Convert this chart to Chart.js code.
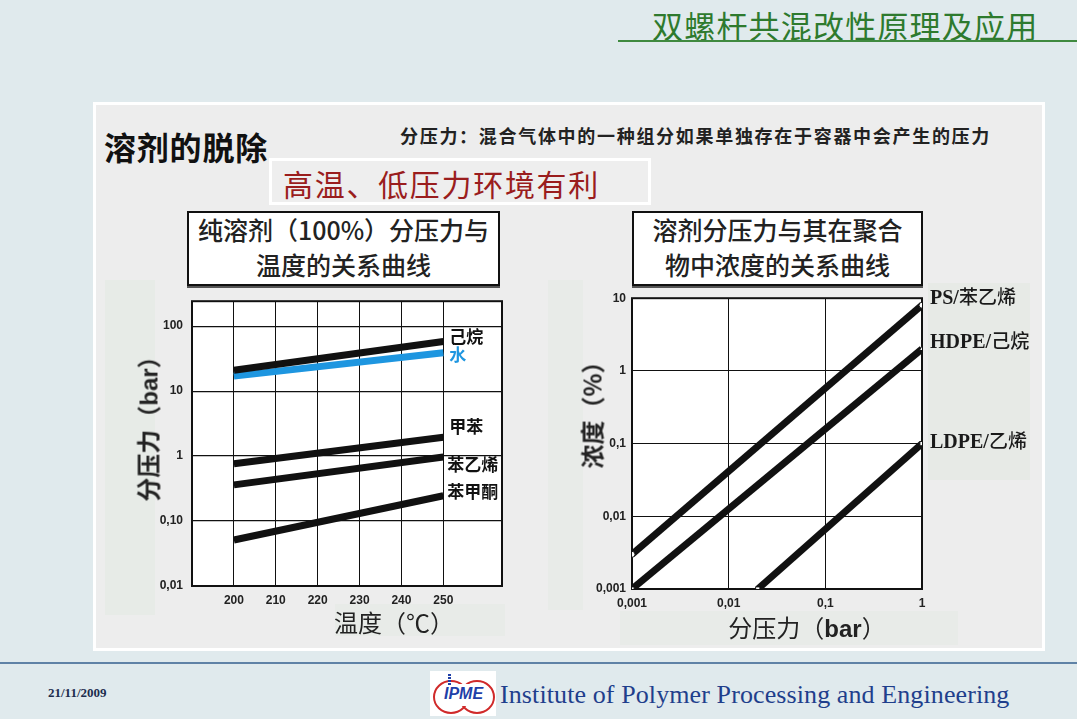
<!DOCTYPE html>
<html>
<head>
<meta charset="utf-8">
<script src="https://cdn.jsdelivr.net/npm/chart.js@4.4.1/dist/chart.umd.min.js"></script>
<style>
  html,body{margin:0;padding:0;}
  body{width:1077px;height:719px;background:#e0eaed;position:relative;overflow:hidden;font-family:"Noto Sans CJK SC","Noto Sans",sans-serif;}
  .abs{position:absolute;white-space:nowrap;}
  .cjk{font-family:"Noto Sans CJK SC",sans-serif;}
  .serif{font-family:"Liberation Serif","Noto Sans CJK SC",serif;}
</style>
</head>
<body>
<script>
// ---------- Left chart data: vapour pressure of pure solvents vs temperature ----------
const tempX = [200, 250];
const tempTicks = [200, 210, 220, 230, 240, 250];
const pressureTicksLeft = [0.01, 0.1, 1, 10, 100];
const pressureTickLabelsLeft = ['0,01', '0,10', '1', '10', '100'];
const leftSeriesNames = ['己烷', '水', '甲苯', '苯乙烯', '苯甲酮'];
const hexane  = [21, 58];
const water   = [17, 39];
const toluene = [0.76, 1.95];
const styrene = [0.36, 0.97];
const ketone  = [0.051, 0.245];

// ---------- Right chart data: concentration in polymer vs partial pressure ----------
const partialTicks = [0.001, 0.01, 0.1, 1];
const partialTickLabels = ['0,001', '0,01', '0,1', '1'];
const concTicks = [0.001, 0.01, 0.1, 1, 10];
const concTickLabels = ['0,001', '0,01', '0,1', '1', '10'];
const rightSeriesNames = ['PS/苯乙烯', 'HDPE/己烷', 'LDPE/乙烯'];
const psX   = [0.001, 1];
const psY   = [0.003, 8];
const hdpeX = [0.001, 1];
const hdpeY = [0.001, 2];
const ldpeX = [0.02, 1];
const ldpeY = [0.001, 0.1];
</script>

<!-- slide decoration -->
<div class="abs cjk" style="left:652px;top:2px;font-size:31px;color:#2e7a2e;letter-spacing:1.2px;">双螺杆共混改性原理及应用</div>
<div class="abs" style="left:618px;top:40px;width:459px;height:2px;background:#3f8a3f;"></div>

<div class="abs" style="left:93px;top:102px;width:946px;height:543px;border:3px solid #ffffff;background:#ededed;"></div>
<!-- faint patches -->
<div class="abs" style="left:105px;top:280px;width:50px;height:335px;background:#e7ebe7;"></div>
<div class="abs" style="left:548px;top:280px;width:35px;height:330px;background:#e8ebe8;"></div>
<div class="abs" style="left:335px;top:604px;width:170px;height:32px;background:#e8ebe8;"></div>
<div class="abs" style="left:620px;top:611px;width:338px;height:34px;background:#e8ebe8;"></div>
<div class="abs" style="left:928px;top:283px;width:102px;height:197px;background:#e7eae6;"></div>

<div class="abs cjk" style="left:104px;top:123px;font-size:32px;font-weight:700;color:#111;letter-spacing:0.8px;">溶剂的脱除</div>
<div class="abs cjk" style="left:400px;top:122px;font-size:18px;font-weight:700;color:#222;letter-spacing:1.7px;">分压力：混合气体中的一种组分如果单独存在于容器中会产生的压力</div>

<div class="abs" style="left:269px;top:158px;width:376px;height:41px;border:3px solid #fff;background:#eeeeee;"></div>
<div class="abs cjk" style="left:283px;top:161px;font-size:30px;color:#9a1d1d;letter-spacing:1.7px;">高温、低压力环境有利</div>

<div class="abs" style="left:187px;top:211px;width:309px;height:71px;border:2px solid #111;background:#fff;box-shadow:0 2px 0 #555;"></div>
<div class="abs cjk" style="left:187px;top:212px;width:313px;text-align:center;font-size:25px;font-weight:500;color:#222;line-height:35px;">纯溶剂（100%）分压力与<br>温度的关系曲线</div>

<div class="abs" style="left:632px;top:211px;width:287px;height:71px;border:2px solid #111;background:#fff;box-shadow:0 2px 0 #555;"></div>
<div class="abs cjk" style="left:632px;top:212px;width:291px;text-align:center;font-size:25px;font-weight:500;color:#222;line-height:35px;">溶剂分压力与其在聚合<br>物中浓度的关系曲线</div>

<!-- chart containers -->
<div class="abs" style="left:100px;top:285px;width:420px;height:330px;"><canvas id="leftChart"></canvas></div>
<div class="abs" style="left:570px;top:285px;width:380px;height:330px;"><canvas id="rightChart"></canvas></div>

<!-- axis titles -->
<div class="abs cjk" style="left:147px;top:423px;transform:translate(-50%,-50%) rotate(-90deg);font-size:24px;font-weight:700;color:#222;">分压力（<span style="font-family:'Liberation Sans';">bar</span>）</div>
<div class="abs cjk" style="left:394px;top:621px;transform:translate(-50%,-50%);font-size:24px;color:#222;">温度（℃）</div>
<div class="abs cjk" style="left:591px;top:409px;transform:translate(-50%,-50%) rotate(-90deg);font-size:24px;font-weight:700;color:#222;">浓度（%）</div>
<div class="abs cjk" style="left:807px;top:626px;transform:translate(-50%,-50%);font-size:24px;color:#222;">分压力（<span style="font-family:'Liberation Sans';font-weight:700;">bar</span>）</div>

<!-- series labels -->
<div id="leftLabels"></div>
<div id="rightLabels"></div>

<!-- footer -->
<div class="abs" style="left:0;top:662px;width:1077px;height:2px;background:#5f82a6;"></div>
<div class="abs serif" style="left:48px;top:685px;font-size:13px;font-weight:700;color:#1d2d4d;">21/11/2009</div>
<div class="abs" style="left:430px;top:671px;width:66px;height:45px;background:#fff;">
  <div class="abs" style="left:3px;top:9px;width:32px;height:30px;border:2px solid #d02a2a;border-radius:50%;"></div>
  <div class="abs" style="left:29px;top:9px;width:32px;height:30px;border:2px solid #d02a2a;border-radius:50%;"></div>
  <div class="abs" style="left:14px;top:13px;width:38px;height:22px;background:#fff;border-radius:8px;"></div>
  <div class="abs" style="left:14px;top:14px;font-family:'Liberation Sans';font-style:italic;font-weight:700;font-size:16px;color:#1f3fa8;">IPME</div>
  <div class="abs" style="left:18px;top:3px;width:3px;height:12px;background:repeating-linear-gradient(#1f3fa8 0 2px,#fff 2px 3px);"></div>
</div>
<div class="abs serif" style="left:500px;top:680px;font-size:26px;color:#1f3f8c;letter-spacing:0.1px;">Institute of Polymer Processing and Engineering</div>

<script>
Chart.defaults.animation = false;
Chart.defaults.font.family = '"Liberation Sans","Arial",sans-serif';

const framePlugin = {
  id: 'frame',
  beforeDraw(chart) {
    const a = chart.chartArea, c = chart.ctx;
    c.save(); c.fillStyle = '#ffffff';
    c.fillRect(a.left, a.top, a.right - a.left, a.bottom - a.top);
    c.restore();
  },
  beforeDatasetsDraw(chart) {
    const a = chart.chartArea, c = chart.ctx;
    c.save(); c.strokeStyle = '#111'; c.lineWidth = 2;
    c.strokeRect(a.left, a.top, a.right - a.left, a.bottom - a.top);
    c.restore();
  }
};

function fixedTicks(values) {
  return function(scale) { scale.ticks = values.map(v => ({ value: v })); };
}
function labelFor(values, labels) {
  return function(value) {
    const i = values.findIndex(v => Math.abs(v - value) / v < 1e-6);
    return i >= 0 ? labels[i] : '';
  };
}
const tickFont = { size: 12, weight: 'bold', family: '"Liberation Sans",Arial,sans-serif' };

function pts(xs, ys) { return xs.map((x, i) => ({ x: x, y: ys[i] })); }

const leftColors = ['#111111', '#1e96e0', '#111111', '#111111', '#111111'];
const leftData = [hexane, water, toluene, styrene, ketone];

const leftChart = new Chart(document.getElementById('leftChart'), {
  type: 'scatter',
  data: {
    datasets: leftData.map((ys, k) => ({
      label: leftSeriesNames[k],
      data: pts(tempX, ys),
      showLine: true,
      borderColor: leftColors[k],
      backgroundColor: leftColors[k],
      borderWidth: 7,
      pointRadius: 0,
      borderCapStyle: 'butt'
    }))
  },
  options: {
    responsive: true, maintainAspectRatio: false,
    layout: { padding: { left: 0, top: 12, right: 18, bottom: 0 } },
    plugins: { legend: { display: false }, tooltip: { enabled: false } },
    scales: {
      x: {
        type: 'linear', min: 190, max: 264,
        afterBuildTicks: fixedTicks(tempTicks),
        afterFit(s) { s.height = 29; },
        grid: { color: '#111', lineWidth: 1, drawTicks: false },
        border: { display: false },
        ticks: { font: tickFont, color: '#222', padding: 7, maxRotation: 0, callback: v => String(v) }
      },
      y: {
        type: 'logarithmic', min: 0.01, max: 242,
        afterBuildTicks: fixedTicks(pressureTicksLeft),
        afterFit(s) { s.width = 92; },
        grid: { color: '#111', lineWidth: 1.2, drawTicks: false },
        border: { display: false },
        ticks: { font: tickFont, color: '#222', padding: 9, callback: labelFor(pressureTicksLeft, pressureTickLabelsLeft) }
      }
    }
  },
  plugins: [framePlugin]
});

const rightMarkers = [['circle', 'circle'], ['rect', 'triangle'], ['rect', 'rect']];
const rightData = [pts(psX, psY), pts(hdpeX, hdpeY), pts(ldpeX, ldpeY)];

const rightChart = new Chart(document.getElementById('rightChart'), {
  type: 'scatter',
  data: {
    datasets: rightData.map((d, k) => ({
      label: rightSeriesNames[k],
      data: d,
      showLine: true,
      borderColor: '#111',
      borderWidth: 7,
      borderCapStyle: 'butt',
      pointRadius: 3,
      pointStyle: rightMarkers[k],
      pointBackgroundColor: '#fff',
      pointBorderColor: '#111',
      pointBorderWidth: 1
    }))
  },
  options: {
    responsive: true, maintainAspectRatio: false,
    layout: { padding: { left: 0, top: 11, right: 28, bottom: 0 } },
    plugins: { legend: { display: false }, tooltip: { enabled: false } },
    scales: {
      x: {
        type: 'logarithmic', min: 0.001, max: 1,
        afterBuildTicks: fixedTicks(partialTicks),
        afterFit(s) { s.height = 26; },
        grid: { color: '#111', lineWidth: 1, drawTicks: false },
        border: { display: false },
        ticks: { font: tickFont, color: '#222', padding: 7, maxRotation: 0, callback: labelFor(partialTicks, partialTickLabels) }
      },
      y: {
        type: 'logarithmic', min: 0.001, max: 10,
        afterBuildTicks: fixedTicks(concTicks),
        afterFit(s) { s.width = 62; },
        grid: { color: '#111', lineWidth: 1, drawTicks: false },
        border: { display: false },
        ticks: { font: tickFont, color: '#222', padding: 6, callback: labelFor(concTicks, concTickLabels) }
      }
    }
  },
  plugins: [framePlugin]
});

// series labels anchored to the last point of each dataset
function placeLabels(chart, containerId, canvasLeft, canvasTop, offsets, styleFn) {
  const box = document.getElementById(containerId);
  chart.data.datasets.forEach((ds, k) => {
    const last = ds.data[ds.data.length - 1];
    const px = chart.scales.x.getPixelForValue(last.x) + canvasLeft + offsets[k][0];
    const py = chart.scales.y.getPixelForValue(last.y) + canvasTop + offsets[k][1];
    const el = document.createElement('div');
    el.className = 'abs';
    el.style.left = px + 'px';
    el.style.top = py + 'px';
    el.style.lineHeight = '1';
    el.style.transform = 'translateY(-50%)';
    el.innerHTML = styleFn(ds.label, k);
    box.appendChild(el);
  });
}
placeLabels(leftChart, 'leftLabels', 100, 285,
  [[6, -7], [6, 0], [6, -12], [4, 6], [4, -6]],
  (t, k) => '<span class="cjk" style="font-size:17px;font-weight:700;color:' + (k === 1 ? '#1e96e0' : '#111') + ';">' + t + '</span>');
placeLabels(rightChart, 'rightLabels', 570, 285,
  [[8, -9], [8, -9], [8, -4]],
  (t) => { const p = t.split('/'); return '<span style="font-family:\'Liberation Serif\';font-size:20px;font-weight:700;color:#1a1a1a;">' + p[0] + '/</span><span class="cjk" style="font-size:19px;font-weight:500;color:#1a1a1a;">' + p[1] + '</span>'; });
</script>
</body>
</html>
